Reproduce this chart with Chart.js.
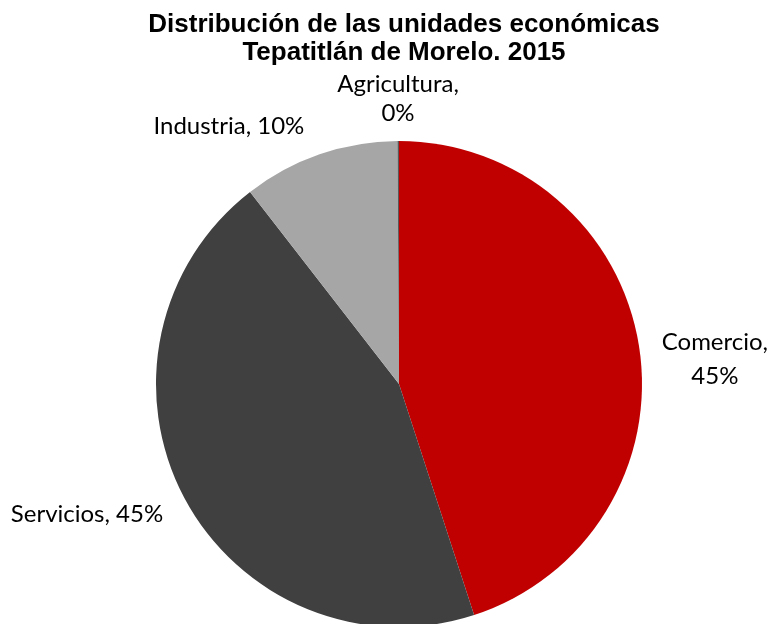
<!DOCTYPE html>
<html>
<head>
<meta charset="utf-8">
<script src="https://cdn.jsdelivr.net/npm/chart.js@4.4.1/dist/chart.umd.min.js"></script>
<style>
  html, body { margin: 0; padding: 0; background: #ffffff; overflow: hidden; }
  #wrap { position: relative; width: 772px; height: 648px; }
</style>
</head>
<body>
<div id="wrap"><canvas id="c" width="772" height="648"></canvas></div>
<script>
// ---- data ----
const categories = ['Comercio', 'Servicios', 'Industria', 'Agricultura'];
const shares = [45.0, 44.5, 10.4, 0.1];
const pctLabels = ['45%', '45%', '10%', '0%'];
const titleLines = ['Distribución de las unidades económicas', 'Tepatitlán de Morelo. 2015'];

const colors = ['#C00000', '#404040', '#A6A6A6', '#595959'];

// label text layout (lines, anchor relative to pie centre in radius units, line step px)
const labelLayout = [
  { lines: ['Comercio,', '45%'], dx: 1.300, dy: -0.140, step: 34 },
  { lines: ['Servicios, 45%'], dx: -1.284, dy: 0.568, step: 0 },
  { lines: ['Industria, 10%'], dx: -0.700, dy: -1.029, step: 0 },
  { lines: ['Agricultura,', '0%'], dx: -0.004, dy: -1.202, step: 29 }
];

const labelPlugin = {
  id: 'outLabels',
  afterDraw(chart) {
    const ctx = chart.ctx;
    const meta = chart.getDatasetMeta(0);
    const arc = meta.data[0];
    const cx = arc.x, cy = arc.y, r = arc.outerRadius;
    ctx.save();
    // title
    ctx.fillStyle = '#000000';
    ctx.textAlign = 'center';
    ctx.textBaseline = 'alphabetic';
    ctx.font = 'bold 26px "Liberation Sans", Arial, sans-serif';
    ctx.fillText(titleLines[0], 404, 32);
    ctx.fillText(titleLines[1], 404, 60);
    // data labels
    ctx.font = '24px Lato, "Noto Sans", sans-serif';
    labelLayout.forEach((L, i) => {
      const x = cx + L.dx * r;
      const y = cy + L.dy * r;
      L.lines.forEach((t, k) => ctx.fillText(t, x, y + k * L.step));
    });
    ctx.restore();
  }
};

new Chart(document.getElementById('c'), {
  type: 'pie',
  data: {
    labels: categories,
    datasets: [{
      data: shares,
      backgroundColor: colors,
      borderWidth: 0
    }]
  },
  options: {
    responsive: false,
    animation: false,
    devicePixelRatio: 1,
    layout: { padding: { left: 156, right: 130, top: 141, bottom: 21 } },
    plugins: {
      legend: { display: false },
      tooltip: { enabled: false },
      title: { display: false }
    }
  },
  plugins: [labelPlugin]
});
</script>
</body>
</html>
